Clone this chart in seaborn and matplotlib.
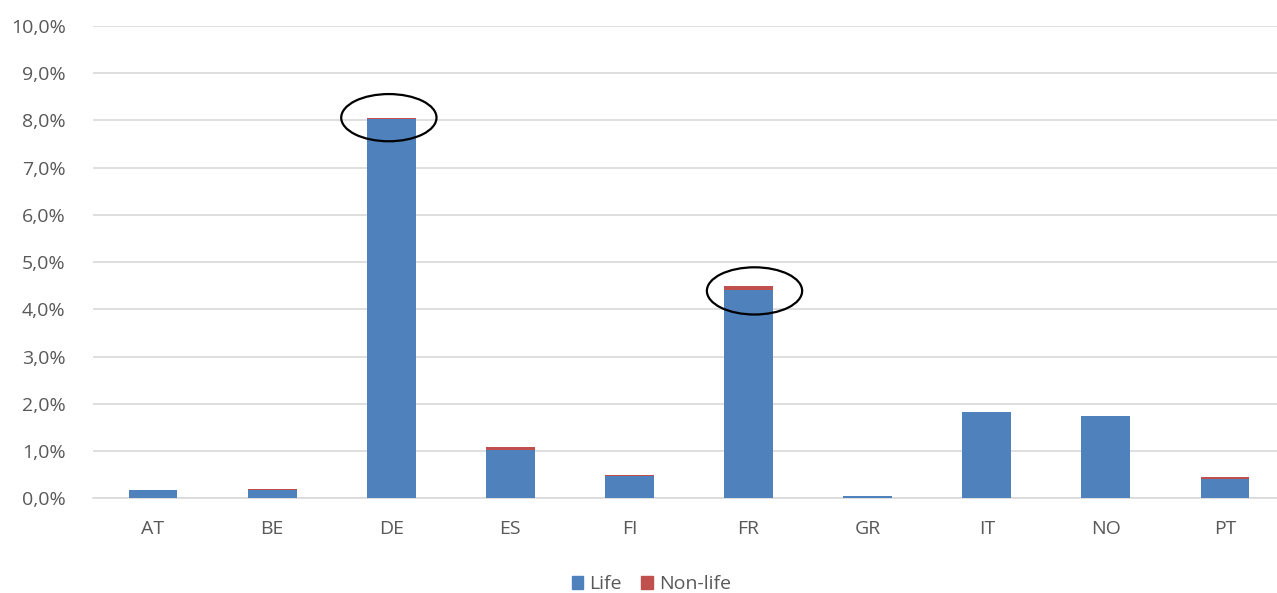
import pandas as pd
import matplotlib.pyplot as plt
import seaborn as sns
from matplotlib.patches import Ellipse, Patch
from matplotlib.ticker import FuncFormatter

# Daten (in %)
countries = ['AT', 'BE', 'DE', 'ES', 'FI', 'FR', 'GR', 'IT', 'NO', 'PT']
life = [0.17, 0.18, 8.03, 1.03, 0.47, 4.41, 0.035, 1.82, 1.73, 0.41]
non_life = [0.01, 0.02, 0.03, 0.05, 0.03, 0.08, 0.005, 0.00, 0.00, 0.04]
highlight = ['DE', 'FR']

df = pd.DataFrame({'country': countries, 'life': life, 'non_life': non_life})
df['total'] = df['life'] + df['non_life']

blue = '#4F81BD'
red = '#C0504D'
grey = '#595959'

sns.set_style('white')
plt.rcParams['font.family'] = ['Open Sans', 'DejaVu Sans']

fig = plt.figure(figsize=(12.77, 5.93), dpi=100)
ax = fig.add_axes([0.0732, 0.160, 0.9327, 0.796])

# gestapelt: erst Summe (rot), dann Life (blau) darüber
sns.barplot(data=df, x='country', y='total', color=red, width=0.41,
            saturation=1, linewidth=0, ax=ax, zorder=2)
sns.barplot(data=df, x='country', y='life', color=blue, width=0.41,
            saturation=1, linewidth=0, ax=ax, zorder=3)

ax.set_ylim(0, 10)
ax.set_xlim(-0.5, 9.5)
ax.set_yticks(range(0, 11))
ax.yaxis.set_major_formatter(FuncFormatter(lambda v, p: f"{v:.1f}%".replace('.', ',')))
ax.grid(axis='y', color='#d9d9d9', linewidth=1.2, zorder=0)
ax.set_axisbelow(True)
for s in ['top', 'right', 'left']:
    ax.spines[s].set_visible(False)
ax.spines['bottom'].set_color('#d9d9d9')
ax.spines['bottom'].set_linewidth(1.2)
ax.tick_params(axis='both', length=0, labelsize=14, colors=grey)
ax.tick_params(axis='x', pad=16)
ax.tick_params(axis='y', pad=20)
ax.set_xlabel('')
ax.set_ylabel('')

# Markierungen um DE und FR (leicht versetzt wie im Original)
offsets = {'DE': (-0.02, 0.0), 'FR': (0.05, -0.1)}
for c in highlight:
    i = countries.index(c)
    top = df.loc[i, 'total']
    dx, dy = offsets[c]
    ax.add_patch(Ellipse((i + dx, top + dy), width=0.80, height=1.0, fill=False,
                         edgecolor='black', linewidth=1.6, zorder=5, clip_on=False))

handles = [Patch(color=blue, label='Life'), Patch(color=red, label='Non-life')]
fig.legend(handles=handles, loc='lower center', ncol=2, frameon=False,
           bbox_to_anchor=(0.51, -0.03), fontsize=14, handlelength=0.6,
           handleheight=0.6, handletextpad=0.3, columnspacing=1.0,
           labelcolor=grey)

fig.savefig('out.png', dpi=100)
